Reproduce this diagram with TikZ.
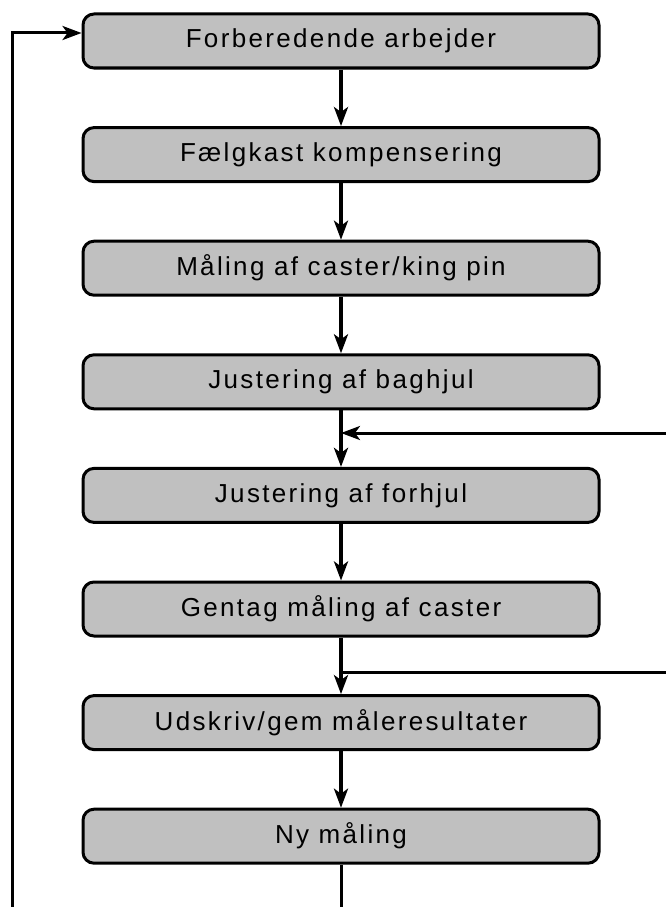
\documentclass[tikz,border=0pt]{standalone}
\usepackage{fontspec}
\setmainfont{Liberation Sans}[LetterSpace=9]
\usepackage{xcolor}
\usetikzlibrary{positioning, arrows.meta}
\definecolor{boxgray}{RGB}{192,192,192}

\begin{document}
\begin{tikzpicture}[x=1pt, y=1pt, >={Stealth[length=19pt, width=14pt, inset=5pt]}, line width=3.6pt]
  \useasboundingbox (0,0) rectangle (666,-907);

  % Set the node style
  \tikzset{stepnode/.style={rectangle, rounded corners=11pt, draw, fill=boxgray,
      minimum width=516pt, minimum height=54pt, line width=3pt,
      font=\fontsize{26}{30}\selectfont}}
  \tikzset{loopline/.style={line width=3pt}}

  % Draw the work steps
  \foreach \i/\label in {0/{Forberedende arbejder}, 1/{Fælgkast kompensering},
      2/{Måling af caster/king pin}, 3/{Justering af baghjul},
      4/{Justering af forhjul}, 5/{Gentag måling af caster},
      6/{Udskriv/gem måleresultater}, 7/{Ny måling}}{
    \node[stepnode] (s\i) at (341,-41-113.6*\i) {\label};
  }

  % Connect the steps
  \foreach \i [evaluate=\i as \j using {int(\i+1)}] in {0,...,6}{
    \draw[->] (s\i) -- (s\j);
  }

  % Loop back to the start
  \coordinate (bottom) at (341,-907);
  \coordinate (leftbot) at (12,-907);
  \draw[loopline] (s7) -- (bottom);
  \draw[loopline, ->] (leftbot) |- ([yshift=8pt]s0.west);

  % Lines coming in from the right
  \coordinate (in1) at (666,-433);
  \coordinate (in2) at (666,-672);
  \draw[loopline, ->] (in1) -- (in1 -| s3);
  \draw[loopline] (in2) -- (in2 -| s5);
\end{tikzpicture}
\end{document}
